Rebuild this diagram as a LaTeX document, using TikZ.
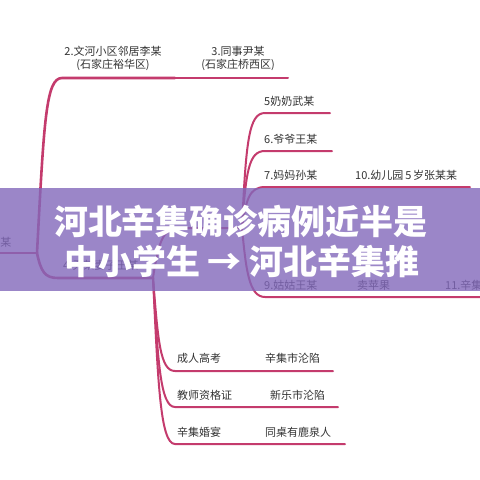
\documentclass[tikz,border=0pt]{standalone}
\usepackage{fontspec}
\setmainfont{Noto Sans CJK SC}
\definecolor{lnc}{HTML}{C43B6D}
\definecolor{txt}{HTML}{333333}
\definecolor{band}{RGB}{130,104,187}
\tikzset{
  br/.style={draw=lnc, line width=2pt, line cap=round},
  brthick/.style={draw=lnc, line width=2.6pt, line cap=round},
  lbl/.style={font=\fontsize{11}{13}\selectfont, text=txt, inner sep=0pt, anchor=west},
  lblc/.style={font=\fontsize{11}{13}\selectfont, text=txt, inner sep=0pt, align=center},
  ttl/.style={font=\fontsize{34}{40}\selectfont\bfseries, text=white, inner sep=0pt},
}
\begin{document}
\begin{tikzpicture}[x=1pt,y=-1pt]
\useasboundingbox (0,0) rectangle (480,480);
\fill[white] (0,0) rectangle (480,480);

% coordinates
\coordinate (root) at (37,253);
\coordinate (rootL) at (-5,253);
\coordinate (n2s) at (62,78);
\coordinate (n2e) at (175,78);
\coordinate (n3e) at (288,78);
\coordinate (n4s) at (58,278);
\coordinate (n4e) at (153,278);
\coordinate (hubs) at (180,228);
\coordinate (hub) at (242,228);
\coordinate (n5s) at (265,113);  \coordinate (n5e) at (330,113);
\coordinate (n6s) at (265,151);  \coordinate (n6e) at (332,151);
\coordinate (n7s) at (265,187);  \coordinate (n10e) at (470,187);
\coordinate (n9s) at (265,297);  \coordinate (n11e) at (485,297);
\coordinate (c1s) at (175,371);  \coordinate (c1e) at (333,371);
\coordinate (c2s) at (175,407);  \coordinate (c2e) at (338,407);
\coordinate (c3s) at (175,444);  \coordinate (c3e) at (345,444);

% root branch
\draw[brthick] (rootL) -- (root);
\draw[brthick] (root) .. controls (44,120) and (46,78) .. (n2s) -- (n2e);
\draw[br] (n2e) -- (n3e);
\draw[brthick] (root) .. controls (41,272) and (45,278) .. (n4s) -- (n4e);

% from 4
\draw[br] (n4e) .. controls (159,238) and (164,228) .. (hubs) -- (hub);
\draw[br] (n4e) .. controls (158,340) and (160,371) .. (c1s) -- (c1e);
\draw[br] (n4e) .. controls (158,360) and (160,407) .. (c2s) -- (c2e);
\draw[br] (n4e) .. controls (158,380) and (160,444) .. (c3s) -- (c3e);

% right cluster
\draw[br] (hub) .. controls (246,140) and (249,113) .. (n5s) -- (n5e);
\draw[br] (hub) .. controls (246,170) and (249,151) .. (n6s) -- (n6e);
\draw[br] (hub) .. controls (246,200) and (249,187) .. (n7s) -- (n10e);
\draw[br] (hub) .. controls (246,270) and (249,297) .. (n9s) -- (n11e);

% labels
\node[lbl, anchor=east] (l1) at (11.5,242) {某};
\node[lblc] (l2) at (113,58.5) {2.文河小区邻居李某\\(石家庄裕华区)};
\node[lblc] (l3) at (238,58.5) {3.同事尹某\\(石家庄桥西区)};
\node[lbl] (l4) at (63,265) {4.尹某妻子王某};
\node[lbl] (l5) at (264,101) {5奶奶武某};
\node[lbl] (l6) at (264,139) {6.爷爷王某};
\node[lbl] (l7) at (264,175) {7.妈妈孙某};
\node[lbl] (l10) at (355,175) {10.幼儿园\,5\,岁张某某};
\node[lbl] (l9) at (264,285) {9.姑姑王某};
\node[lbl] (lap) at (357,285) {卖苹果};
\node[lbl] (l11) at (445,285) {11.辛集};
\node[lbl] (lc1) at (177,358) {成人高考};
\node[lbl] (lc1b) at (265,358) {辛集市沦陷};
\node[lbl] (lc2) at (177,395) {教师资格证};
\node[lbl] (lc2b) at (270,395) {新乐市沦陷};
\node[lbl] (lc3) at (177,432) {辛集婚宴};
\node[lbl] (lc3b) at (265,432) {同桌有鹿泉人};

% band
\fill[band, opacity=0.8] (0,188) rectangle (480,291);
\node[ttl] (t1) at (241,221) {河北辛集确诊病例近半是};
\node[ttl] (t2) at (242,261) {中小学生 → 河北辛集推};
\end{tikzpicture}
\end{document}
